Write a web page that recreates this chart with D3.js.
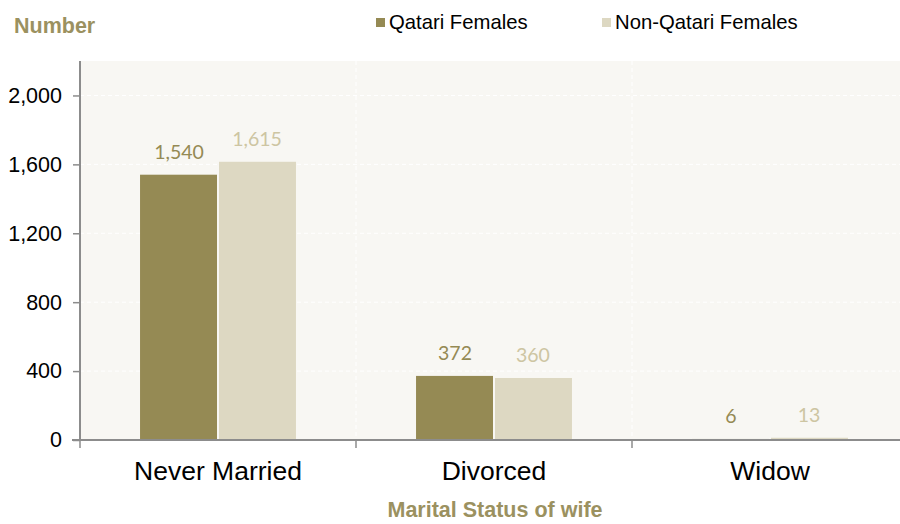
<!DOCTYPE html>
<html>
<head>
<meta charset="utf-8">
<script src="https://cdn.jsdelivr.net/npm/d3@7"></script>
<style>
  body { margin: 0; background: #fff; }
  svg { display: block; }
</style>
</head>
<body>
<div id="chart"></div>
<script>
const categories = ['Never Married', 'Divorced', 'Widow'];
const seriesNames = ['Qatari Females', 'Non-Qatari Females'];
const qatariValues = [1540, 372, 6];
const nonQatariValues = [1615, 360, 13];
const yTicks = [0, 400, 800, 1200, 1600, 2000];

const colors = ['#958a54', '#ddd8c2'];
const labelColors = ['#958a54', '#cdc5a2'];

const width = 900, height = 524;
const margin = {top: 61, right: -8, bottom: 84, left: 80};

const svg = d3.select('#chart').append('svg')
    .attr('width', width)
    .attr('height', height);

const x = d3.scaleBand()
    .domain(categories)
    .range([margin.left, width - margin.right]);

const x1 = d3.scaleBand()
    .domain(seriesNames)
    .range([0, x.bandwidth()])
    .paddingOuter(0.77)
    .paddingInner(0);

const y = d3.scaleLinear()
    .domain([0, 2200])
    .range([height - margin.bottom, margin.top]);

// plot background
svg.append('rect')
    .attr('x', margin.left)
    .attr('y', margin.top)
    .attr('width', width - margin.right - margin.left)
    .attr('height', y(0) - margin.top)
    .attr('fill', '#f8f7f3');

// horizontal grid
svg.selectAll('.hgrid')
    .data(yTicks.filter(d => d > 0))
    .join('line')
    .attr('class', 'hgrid')
    .attr('x1', margin.left)
    .attr('x2', width)
    .attr('y1', d => y(d))
    .attr('y2', d => y(d))
    .attr('stroke', '#ffffff')
    .attr('stroke-width', 1)
    .attr('stroke-dasharray', '4,3');

// vertical grid between categories
svg.selectAll('.vgrid')
    .data(categories.slice(1))
    .join('line')
    .attr('class', 'vgrid')
    .attr('x1', d => x(d))
    .attr('x2', d => x(d))
    .attr('y1', margin.top)
    .attr('y2', y(0))
    .attr('stroke', '#ffffff')
    .attr('stroke-width', 1)
    .attr('stroke-dasharray', '4,3');

const rows = categories.map((c, i) => ({
    category: c,
    values: [qatariValues[i], nonQatariValues[i]]
}));

const groups = svg.selectAll('.group')
    .data(rows)
    .join('g')
    .attr('class', 'group')
    .attr('transform', d => `translate(${x(d.category)},0)`);

groups.selectAll('rect')
    .data(d => d.values.map((v, i) => ({name: seriesNames[i], value: v, i: i})))
    .join('rect')
    .attr('x', d => x1(d.name) + (d.i === 1 ? 1 : 0))
    .attr('width', d => x1.bandwidth() - 1)
    .attr('y', d => y(d.value))
    .attr('height', d => y(0) - y(d.value))
    .attr('fill', d => colors[d.i]);

groups.selectAll('.val')
    .data(d => d.values.map((v, i) => ({name: seriesNames[i], value: v, i: i})))
    .join('text')
    .attr('class', 'val')
    .attr('x', d => x1(d.name) + x1.bandwidth() / 2)
    .attr('y', d => y(d.value) - 16)
    .attr('text-anchor', 'middle')
    .style('font-family', 'Lato, "Open Sans", sans-serif')
    .style('font-size', '19.5px')
    .attr('fill', d => labelColors[d.i])
    .text(d => d3.format(',')(d.value));

// y axis
const yAxis = svg.append('g')
    .attr('transform', `translate(${margin.left},0)`)
    .call(d3.axisLeft(y).tickValues(yTicks).tickFormat(d3.format(',')).tickSize(7).tickPadding(11));
yAxis.select('.domain')
    .attr('d', `M0,${margin.top}V${y(0)}`)
    .attr('stroke', '#8c8c8c')
    .attr('stroke-width', 2);
yAxis.selectAll('.tick line').attr('stroke', '#8c8c8c').attr('stroke-width', 1.5);
yAxis.selectAll('.tick text')
    .style('font-family', 'Arial, "Liberation Sans", sans-serif')
    .style('font-size', '21.5px')
    .attr('fill', '#000');

// x axis
const xAxis = svg.append('g')
    .attr('transform', `translate(0,${y(0)})`)
    .call(d3.axisBottom(x).tickSize(0).tickPadding(21));
xAxis.select('.domain')
    .attr('d', `M${margin.left - 8},0H${width}`)
    .attr('stroke', '#8c8c8c')
    .attr('stroke-width', 2);
xAxis.selectAll('.tick text')
    .style('font-family', 'Arial, "Liberation Sans", sans-serif')
    .style('font-size', '26.5px')
    .attr('fill', '#000');

// ticks at category boundaries
svg.selectAll('.xtick')
    .data(categories)
    .join('line')
    .attr('class', 'xtick')
    .attr('x1', d => x(d))
    .attr('x2', d => x(d))
    .attr('y1', y(0))
    .attr('y2', y(0) + 8)
    .attr('stroke', '#8c8c8c')
    .attr('stroke-width', 1.5);

// axis titles
svg.append('text')
    .attr('x', 14)
    .attr('y', 33)
    .style('font-family', 'Arial, "Liberation Sans", sans-serif')
    .style('font-size', '21.5px')
    .style('font-weight', 'bold')
    .attr('fill', '#9b9160')
    .text('Number');

svg.append('text')
    .attr('x', 495)
    .attr('y', 517)
    .attr('text-anchor', 'middle')
    .style('font-family', 'Arial, "Liberation Sans", sans-serif')
    .style('font-size', '21.5px')
    .style('font-weight', 'bold')
    .attr('fill', '#9b9160')
    .text('Marital Status of wife');

// legend
const legendX = [376, 602];
const legend = svg.selectAll('.legend')
    .data(seriesNames)
    .join('g')
    .attr('class', 'legend')
    .attr('transform', (d, i) => `translate(${legendX[i]},0)`);

legend.append('rect')
    .attr('x', 0)
    .attr('y', 18)
    .attr('width', 9)
    .attr('height', 9)
    .attr('fill', (d, i) => colors[i]);

legend.append('text')
    .attr('x', 13)
    .attr('y', 29)
    .style('font-family', 'Arial, "Liberation Sans", sans-serif')
    .style('font-size', '20.3px')
    .attr('fill', '#000')
    .text(d => d);
</script>
</body>
</html>
